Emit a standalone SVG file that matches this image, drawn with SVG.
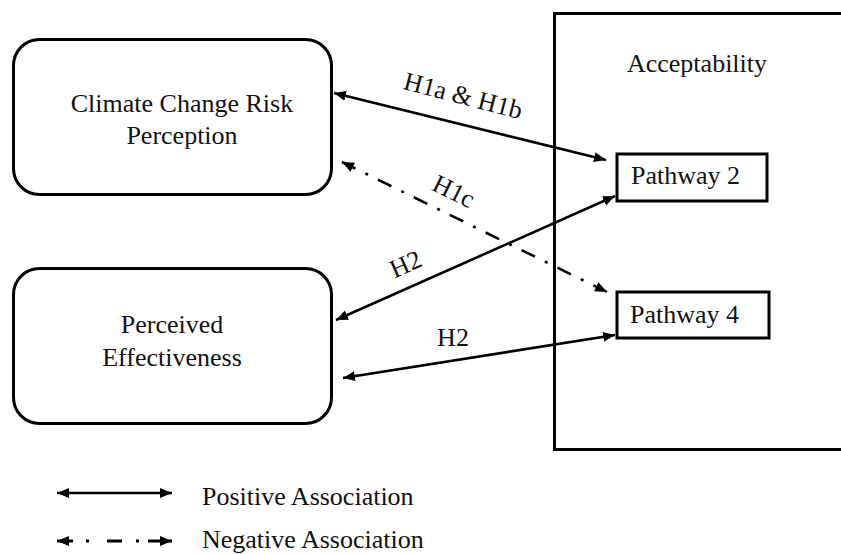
<svg xmlns="http://www.w3.org/2000/svg" width="841" height="554" viewBox="0 0 841 554">
<style>
  text { font-family: "Liberation Serif", "Times New Roman", serif; font-size: 26px; fill: #111; }
  .box { fill: none; stroke: #000; stroke-width: 3; }
  .pos { fill: none; stroke: #000; stroke-width: 2.6; }
  .neg { fill: none; stroke: #000; stroke-width: 2.6; stroke-dasharray: 15 11 3 11; }
  .negl { fill: none; stroke: #000; stroke-width: 2.8; stroke-dasharray: 16 13 3 18 15 14 3 9 24; }
</style>
<defs>
  <marker id="ah" markerUnits="userSpaceOnUse" markerWidth="14" markerHeight="12" refX="12" refY="6" orient="auto-start-reverse">
    <path d="M0,1 L12,6 L0,11 Z" fill="#000"/>
  </marker>
</defs>
<rect width="841" height="554" fill="#fff"/>

<g id="node-climate">
  <rect class="box" x="13.5" y="39.5" width="318" height="155" rx="26" ry="26"/>
  <text x="182" y="112" text-anchor="middle">Climate Change Risk</text>
  <text x="182" y="144" text-anchor="middle">Perception</text>
</g>

<g id="node-effectiveness">
  <rect class="box" x="13.5" y="268.5" width="318" height="155" rx="26" ry="26"/>
  <text x="172" y="333" text-anchor="middle">Perceived</text>
  <text x="172" y="366" text-anchor="middle">Effectiveness</text>
</g>

<g id="node-acceptability">
  <rect class="box" x="554.5" y="13.5" width="320" height="436"/>
  <text x="697" y="72" text-anchor="middle">Acceptability</text>
</g>

<g id="node-pathway2">
  <rect class="box" x="617" y="154" width="150" height="47"/>
  <text x="631" y="184">Pathway 2</text>
</g>

<g id="node-pathway4">
  <rect class="box" x="617" y="292" width="152" height="46"/>
  <text x="630" y="323">Pathway 4</text>
</g>

<g id="connectors">
  <line class="pos" x1="334" y1="93" x2="606" y2="160" marker-start="url(#ah)" marker-end="url(#ah)"/>
  <line class="neg" x1="342" y1="162" x2="607" y2="292" marker-start="url(#ah)" marker-end="url(#ah)"/>
  <line class="pos" x1="336" y1="320" x2="615" y2="196" marker-start="url(#ah)" marker-end="url(#ah)"/>
  <line class="pos" x1="343" y1="378" x2="615" y2="335" marker-start="url(#ah)" marker-end="url(#ah)"/>
  <text x="461" y="104" text-anchor="middle" transform="rotate(14.5 461 104)">H1a &amp; H1b</text>
  <text x="450" y="199" text-anchor="middle" transform="rotate(26 450 199)">H1c</text>
  <text x="409" y="272" text-anchor="middle" transform="rotate(-24 409 272)">H2</text>
  <text x="453" y="346" text-anchor="middle">H2</text>
</g>

<g id="legend">
  <line class="pos" x1="57" y1="493" x2="172" y2="493" marker-start="url(#ah)" marker-end="url(#ah)"/>
  <text x="202" y="505">Positive Association</text>
  <line class="negl" x1="57" y1="541" x2="172" y2="541" marker-start="url(#ah)" marker-end="url(#ah)"/>
  <text x="202" y="548">Negative Association</text>
</g>
</svg>
